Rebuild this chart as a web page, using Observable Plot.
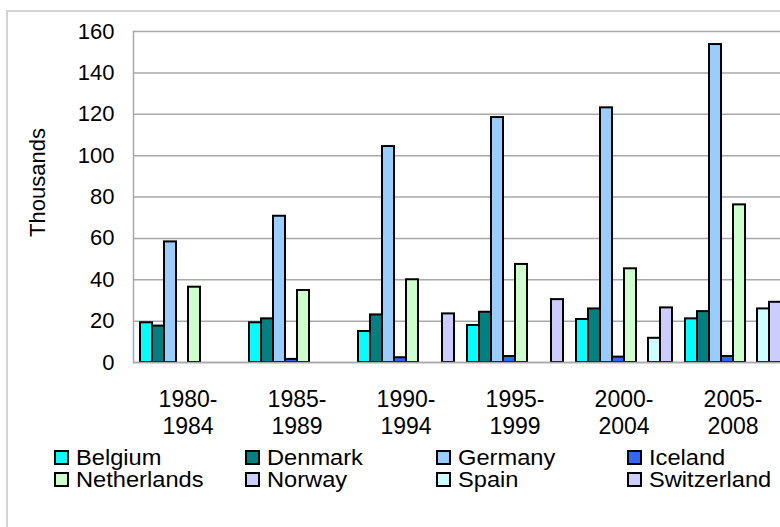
<!DOCTYPE html>
<html>
<head>
<meta charset="utf-8">
<script src="https://cdn.jsdelivr.net/npm/d3@7"></script>
<script src="https://cdn.jsdelivr.net/npm/@observablehq/plot@0.6"></script>
<style>
  html, body { margin: 0; padding: 0; background: #fff; overflow: hidden; }
  body { width: 780px; height: 527px; position: relative; font-family: "Liberation Sans", Arial, sans-serif; }
  #border { position: absolute; left: 6px; top: 10px; width: 2000px; height: 2000px; border: 2px solid #d4d4d4; }
  #chart { position: absolute; left: 0; top: 0; width: 800px; }
  #chart svg { max-width: none !important; }
  #ylabel { position: absolute; left: 0; top: 0; }
  #legend { position: absolute; left: 54px; top: 448px; display: grid; grid-template-columns: 191px 191px 191px 191px; font-size: 21.5px; line-height: 21.5px; color: #000; white-space: nowrap; }
  .item { display: flex; align-items: baseline; }
  .swatch { display: inline-block; width: 15px; height: 15px; box-sizing: border-box; border: 2px solid #000; margin-right: 7px; }
  .label { display: inline-block; transform: scaleX(1.1); transform-origin: left center; }
</style>
</head>
<body>
<div id="border"></div>
<div id="chart"></div>
<svg id="ylabel" width="80" height="527"><text transform="translate(45,182.5) rotate(-90)" text-anchor="middle" font-family="'Liberation Sans', Arial, sans-serif" font-size="22" fill="#000">Thousands</text></svg>
<div id="legend"></div>
<script>
const periods = ["1980-1984", "1985-1989", "1990-1994", "1995-1999", "2000-2004", "2005-2008"];
const countries = ["Belgium", "Denmark", "Germany", "Iceland", "Netherlands", "Norway", "Spain", "Switzerland"];
const colors = ["#00FFFF", "#008080", "#99CCFF", "#3366FF", "#CCFFCC", "#CCCCFF", "#CCFFFF", "#CCCCFF"];
const belgium = [19.2, 19.2, 15.0, 17.9, 20.8, 21.1];
const denmark = [17.6, 21.1, 23.0, 24.3, 25.9, 24.6];
const germany = [58.3, 70.7, 104.4, 118.4, 123.1, 153.7];
const iceland = [null, 1.5, 2.3, 2.9, 2.6, 2.9];
const netherlands = [36.4, 34.8, 40.0, 47.4, 45.3, 76.2];
const norway = [null, null, null, null, null, null];
const spain = [null, null, null, null, 11.7, 25.9];
const switzerland = [null, null, 23.5, 30.4, 26.4, 29.1];
const yTicks = [0, 20, 40, 60, 80, 100, 120, 140, 160];

const series = [belgium, denmark, germany, iceland, netherlands, norway, spain, switzerland];
const data = [];
periods.forEach((p, i) => {
  countries.forEach((c, j) => {
    const v = series[j][i];
    if (v != null) data.push({period: p, country: c, value: v});
  });
});

const gridColor = "#a9a9a9";
const chart = Plot.plot({
  width: 800,
  height: 440,
  marginLeft: 133,
  marginRight: 13,
  marginTop: 31,
  marginBottom: 78,
  style: {fontFamily: "'Liberation Sans', Arial, sans-serif", fontSize: "22px", color: "#000", background: "transparent", overflow: "visible", maxWidth: "none"},
  fx: {domain: periods, padding: 0, label: null},
  x: {domain: countries, paddingInner: 0, paddingOuter: 0.29, axis: null},
  y: {domain: [0, 160], label: null},
  color: {domain: countries, range: colors},
  marks: [
    Plot.gridY(yTicks, {stroke: gridColor, strokeOpacity: 1, strokeWidth: 1.5}),
    Plot.barY(data, {fx: "period", x: "country", y: "value", fill: "country", stroke: "#000", strokeWidth: 2}),
    Plot.ruleY([0], {stroke: gridColor, strokeWidth: 1.5}),
    Plot.frame({anchor: "left", facetAnchor: "left", stroke: gridColor, strokeWidth: 1.5}),
    Plot.axisY(yTicks, {tickSize: 0, tickPadding: 19, label: null, fontSize: 22}),
    Plot.axisFx({anchor: "bottom", tickSize: 0, tickPadding: 26, label: null, fontSize: 23, lineHeight: 1.15, tickFormat: d => d.replace("-", "-\n")})
  ]
});
document.getElementById("chart").appendChild(chart);

const legend = document.getElementById("legend");
countries.forEach((c, j) => {
  const item = document.createElement("div");
  item.className = "item";
  const sw = document.createElement("span");
  sw.className = "swatch";
  sw.style.background = colors[j];
  const t = document.createElement("span");
  t.className = "label";
  t.textContent = c;
  item.appendChild(sw);
  item.appendChild(t);
  legend.appendChild(item);
});
</script>
</body>
</html>
